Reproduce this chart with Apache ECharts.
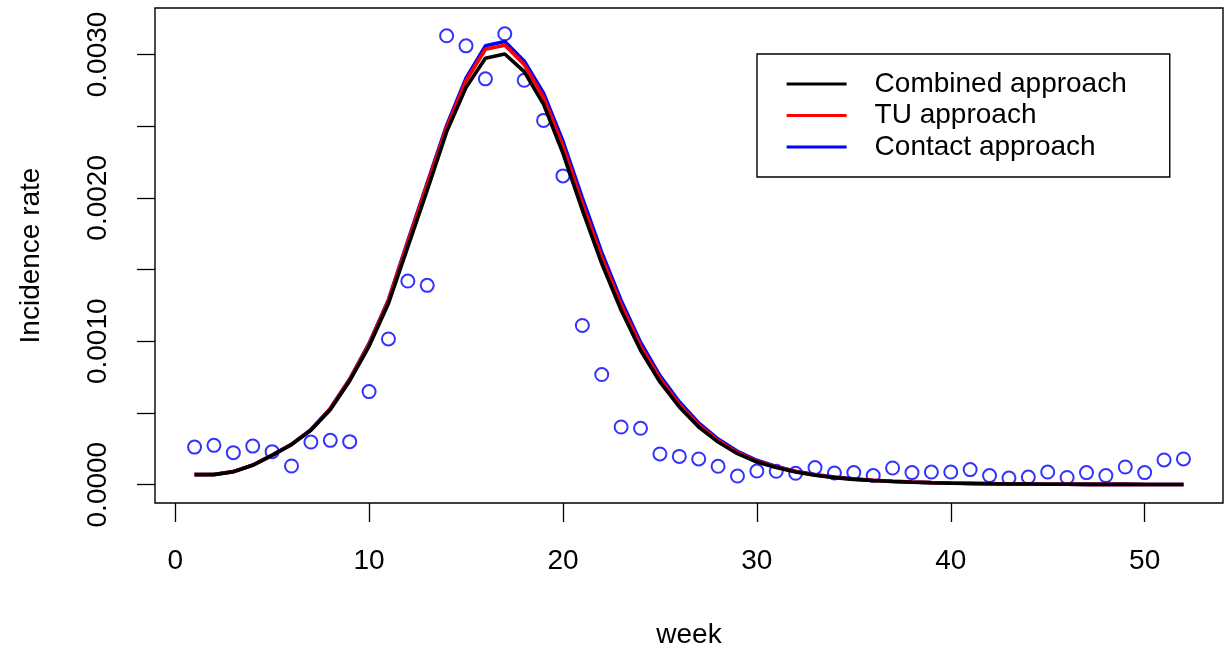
<!DOCTYPE html>
<html>
<head>
<meta charset="utf-8">
<title>Incidence rate by week</title>
<script src="https://cdn.jsdelivr.net/npm/echarts@6/dist/echarts.min.js"></script>
<style>
  html, body { margin: 0; padding: 0; background: #fff; }
  #main { width: 1230px; height: 655px; }
</style>
</head>
<body>
<div id="main"></div>
<script>
var weeks = [1,2,3,4,5,6,7,8,9,10,11,12,13,14,15,16,17,18,19,20,21,22,23,24,25,26,
             27,28,29,30,31,32,33,34,35,36,37,38,39,40,41,42,43,44,45,46,47,48,49,50,51,52];

// observed incidence (circles)
var observed = [0.000262, 0.000274, 0.000223, 0.000269, 0.000230, 0.000130, 0.000297, 0.000309,
  0.000300, 0.000649, 0.001016, 0.001420, 0.001390, 0.003130, 0.003060, 0.002830, 0.003144,
  0.002820, 0.002540, 0.002153, 0.001110, 0.000768, 0.000402, 0.000393, 0.000214, 0.000197,
  0.000179, 0.000128, 0.000060, 0.000095, 0.000093, 0.000079, 0.000119, 0.000081, 0.000084,
  0.000063, 0.000116, 0.000084, 0.000088, 0.000088, 0.000105, 0.000063, 0.000046, 0.000053,
  0.000088, 0.000050, 0.000084, 0.000063, 0.000123, 0.000084, 0.000172, 0.000179];

var combined = [0.000070, 0.000070, 0.000090, 0.000135, 0.000204, 0.000279, 0.000379, 0.000523,
  0.000723, 0.000965, 0.001263, 0.001658, 0.002054, 0.002460, 0.002770, 0.002973, 0.003003,
  0.002880, 0.002652, 0.002310, 0.001914, 0.001542, 0.001216, 0.000937, 0.000716, 0.000542,
  0.000402, 0.000297, 0.000216, 0.000158, 0.000119, 0.000088, 0.000065, 0.000049, 0.000037,
  0.000029, 0.000022, 0.000017, 0.000013, 0.000010, 0.000008, 0.000006, 0.000005, 0.000004,
  0.000003, 0.000003, 0.000002, 0.000002, 0.000002, 0.000001, 0.000001, 0.000001];

var tuApproach = [0.000070, 0.000071, 0.000091, 0.000136, 0.000205, 0.000281, 0.000382, 0.000530,
  0.000733, 0.000980, 0.001285, 0.001690, 0.002095, 0.002490, 0.002815, 0.003036, 0.003065,
  0.002930, 0.002700, 0.002360, 0.001960, 0.001585, 0.001255, 0.000968, 0.000740, 0.000560,
  0.000416, 0.000307, 0.000224, 0.000164, 0.000123, 0.000091, 0.000067, 0.000051, 0.000038,
  0.000030, 0.000023, 0.000018, 0.000014, 0.000011, 0.000008, 0.000006, 0.000005, 0.000004,
  0.000003, 0.000003, 0.000002, 0.000002, 0.000002, 0.000001, 0.000001, 0.000001];

var contactApproach = [0.000071, 0.000071, 0.000091, 0.000137, 0.000206, 0.000282, 0.000384, 0.000532,
  0.000736, 0.000985, 0.001290, 0.001700, 0.002105, 0.002505, 0.002835, 0.003060, 0.003090,
  0.002955, 0.002730, 0.002395, 0.002000, 0.001620, 0.001285, 0.000993, 0.000760, 0.000578,
  0.000430, 0.000318, 0.000232, 0.000170, 0.000127, 0.000094, 0.000070, 0.000053, 0.000040,
  0.000031, 0.000024, 0.000018, 0.000014, 0.000011, 0.000009, 0.000007, 0.000005, 0.000004,
  0.000003, 0.000003, 0.000002, 0.000002, 0.000002, 0.000001, 0.000001, 0.000001];

var xTicks = [0, 10, 20, 30, 40, 50];
var yTicks = [0, 0.0005, 0.0010, 0.0015, 0.0020, 0.0025, 0.0030];
var yLabels = [0, 0.0010, 0.0020, 0.0030];

function pairs(vals) {
  return weeks.map(function (w, i) { return [w, vals[i]]; });
}

var FONT = "'Liberation Sans', Arial, sans-serif";

var chart = echarts.init(document.getElementById('main'), null, { renderer: 'canvas' });

var option = {
  animation: false,
  backgroundColor: '#ffffff',
  textStyle: { fontFamily: FONT },
  grid: {
    left: 155, right: 7, top: 8, bottom: 152,
    show: true, borderColor: '#000', borderWidth: 1.4, backgroundColor: 'transparent'
  },
  legend: {
    data: ['Combined approach', 'TU approach', 'Contact approach'],
    orient: 'vertical',
    left: 757, top: 54,
    padding: [16, 43, 16, 28],
    itemWidth: 60, itemHeight: 28, itemGap: 3.5,
    borderColor: '#000', borderWidth: 1.4,
    selectedMode: false,
    itemStyle: { opacity: 0 },
    lineStyle: { width: 3.2 },
    textStyle: { fontFamily: FONT, fontSize: 28, color: '#000', padding: [0, 0, 0, 23] }
  },
  xAxis: {
    type: 'value',
    min: -1.04, max: 54.04,
    name: 'week', nameLocation: 'middle', nameGap: 118,
    nameTextStyle: { fontFamily: FONT, fontSize: 28, color: '#000' },
    axisLine: { show: false, onZero: false },
    splitLine: { show: false },
    axisTick: { show: true, inside: false, length: 19, customValues: xTicks, lineStyle: { color: '#000', width: 1.3 } },
    axisLabel: { customValues: xTicks, margin: 44, fontFamily: FONT, fontSize: 28, color: '#000' }
  },
  yAxis: {
    type: 'value',
    min: -0.000128, max: 0.003324,
    name: 'Incidence rate', nameLocation: 'middle', nameGap: 110,
    nameTextStyle: { fontFamily: FONT, fontSize: 28, color: '#000' },
    axisLine: { show: false, onZero: false },
    splitLine: { show: false },
    axisTick: { show: true, inside: false, length: 18, customValues: yTicks, lineStyle: { color: '#000', width: 1.3 } },
    axisLabel: {
      customValues: yLabels, rotate: 90, margin: 43,
      fontFamily: FONT, fontSize: 28, color: '#000',
      formatter: function (v) { return v.toFixed(4); }
    }
  },
  series: [
    {
      name: 'Observed', type: 'scatter', data: pairs(observed),
      symbol: 'circle', symbolSize: 13,
      itemStyle: { color: 'rgba(0,0,0,0)', borderColor: '#0000ff', borderWidth: 2 },
      silent: true
    },
    {
      name: 'Contact approach', type: 'line', data: pairs(contactApproach),
      symbol: 'none', color: '#0000ff',
      lineStyle: { color: '#0000ff', width: 3.6 }, silent: true
    },
    {
      name: 'TU approach', type: 'line', data: pairs(tuApproach),
      symbol: 'none', color: '#ff0000',
      lineStyle: { color: '#ff0000', width: 3.6 }, silent: true
    },
    {
      name: 'Combined approach', type: 'line', data: pairs(combined),
      symbol: 'none', color: '#000000',
      lineStyle: { color: '#000000', width: 3.6 }, silent: true
    }
  ]
};

chart.setOption(option);
</script>
</body>
</html>
